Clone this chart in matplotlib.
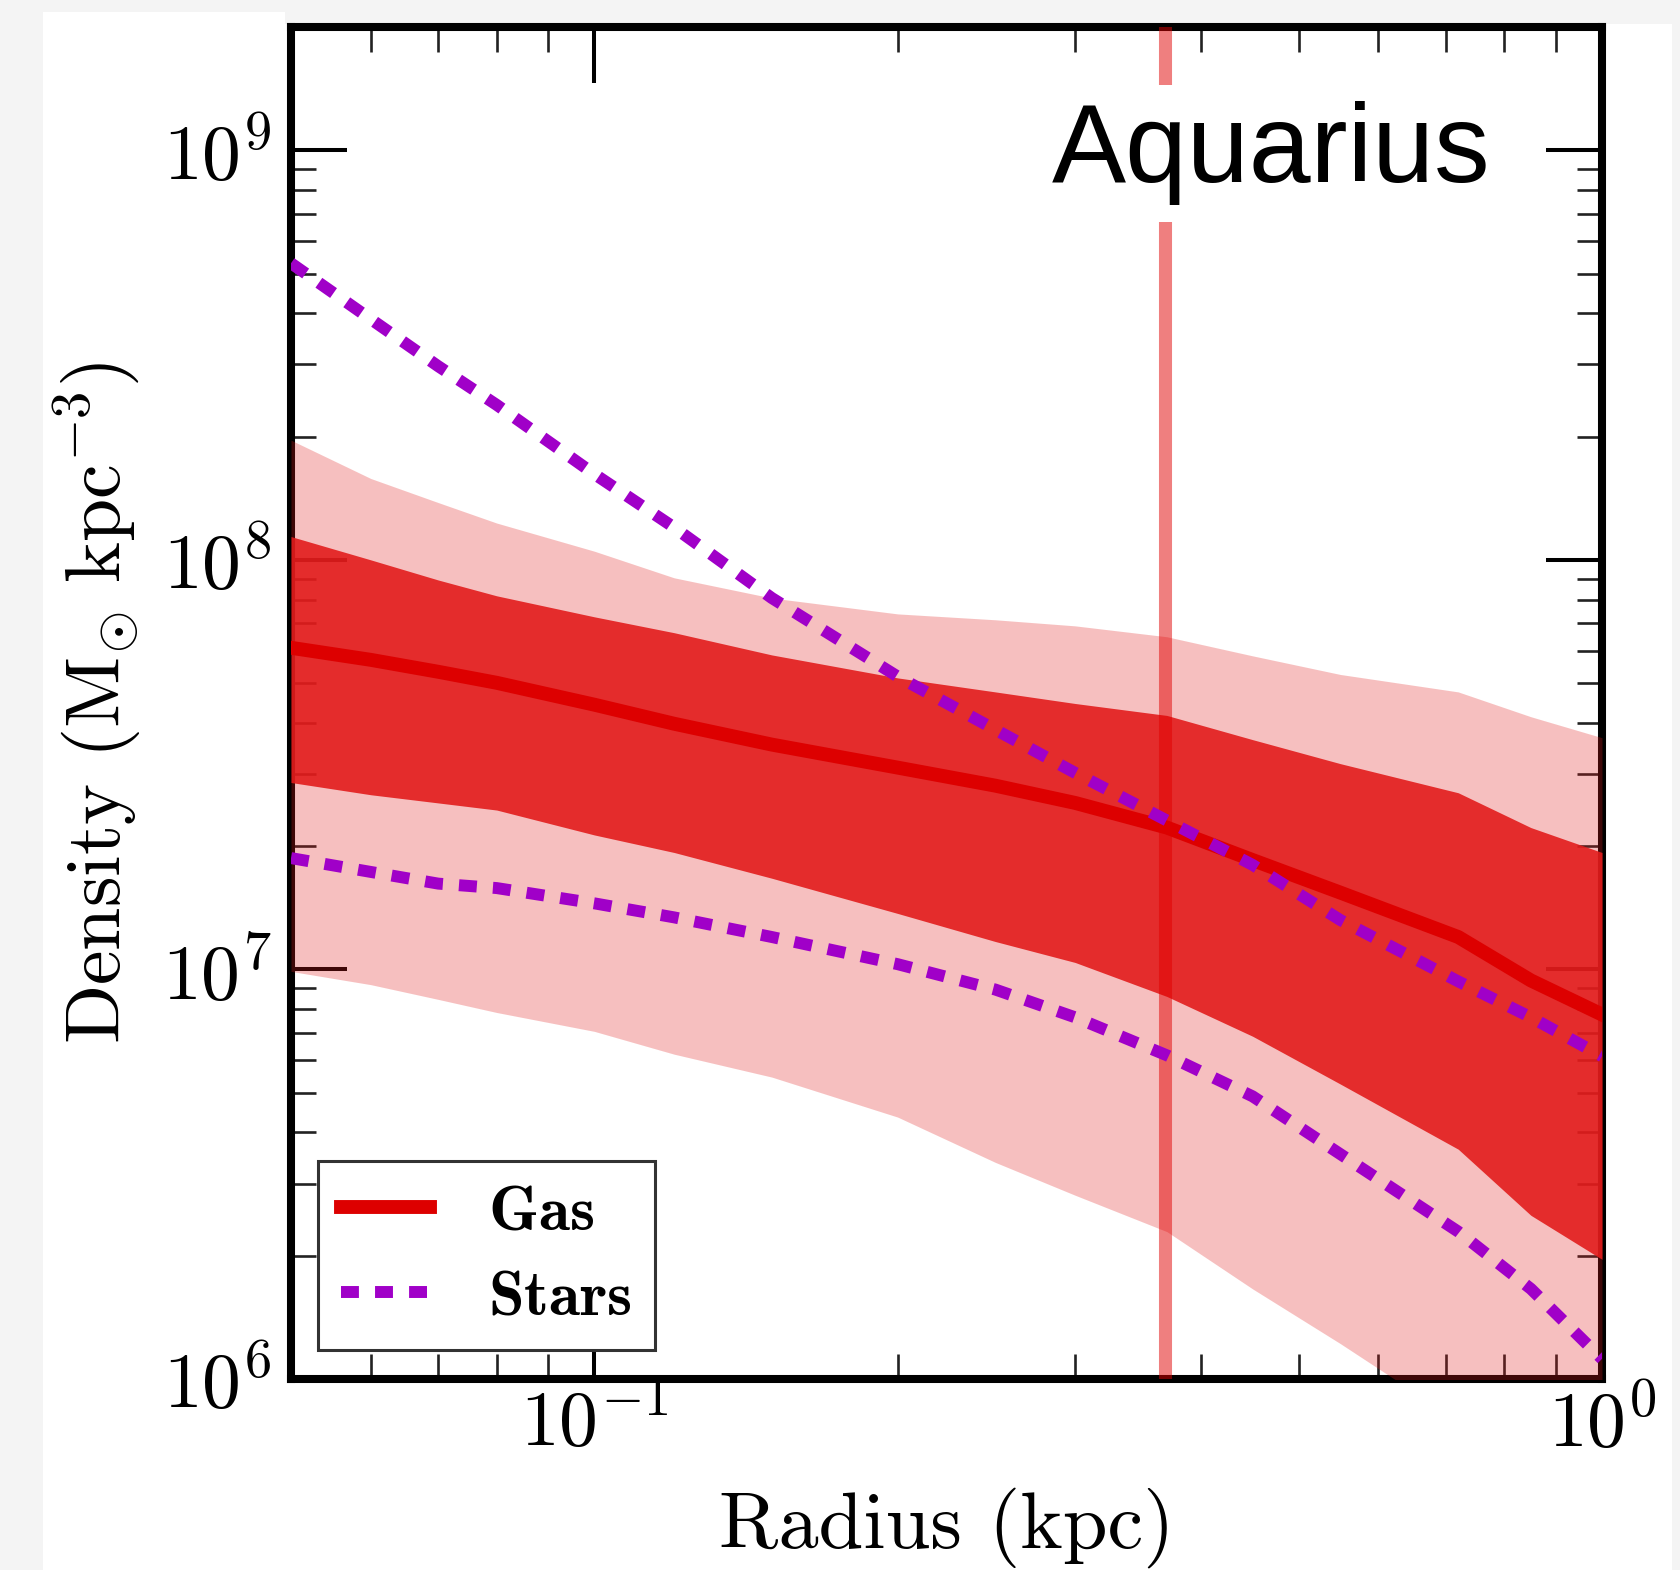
### Density profiles of gas and stars for the Aquarius dwarf
### Values were read off the original figure by eye (log-log axes)

import numpy as np
import matplotlib

matplotlib.use("Agg")
import matplotlib.pyplot as plt
from matplotlib.patches import Rectangle
from matplotlib.ticker import LogLocator, NullFormatter

plt.rcParams["mathtext.fontset"] = "cm"
plt.rcParams["font.family"] = "serif"
plt.rcParams["font.serif"] = ["cmr10"]
plt.rcParams["axes.formatter.use_mathtext"] = True

# radius (kpc) where the curves were sampled
radius = [0.05, 0.06, 0.07, 0.08, 0.10, 0.12, 0.15, 0.20,
          0.25, 0.30, 0.37, 0.45, 0.55, 0.72, 0.85, 1.00]

# gas density, median and the two confidence bands (Msun / kpc^3)
gas_median = [6.10e7, 5.70e7, 5.33e7, 5.01e7, 4.43e7, 3.98e7, 3.54e7, 3.11e7,
              2.81e7, 2.55e7, 2.22e7, 1.85e7, 1.54e7, 1.20e7, 9.40e6, 7.76e6]
gas_inner_hi = [1.14e8, 1.00e8, 8.93e7, 8.17e7, 7.26e7, 6.64e7, 5.86e7, 5.15e7,
                4.76e7, 4.46e7, 4.17e7, 3.64e7, 3.18e7, 2.70e7, 2.22e7, 1.93e7]
gas_inner_lo = [2.86e7, 2.67e7, 2.55e7, 2.45e7, 2.13e7, 1.93e7, 1.67e7, 1.37e7,
                1.17e7, 1.04e7, 8.59e6, 6.87e6, 5.25e6, 3.64e6, 2.51e6, 1.96e6]
gas_outer_hi = [1.96e8, 1.58e8, 1.38e8, 1.23e8, 1.05e8, 9.04e7, 8.07e7, 7.38e7,
                7.14e7, 6.90e7, 6.49e7, 5.83e7, 5.25e7, 4.76e7, 4.14e7, 3.68e7]
gas_outer_lo = [9.89e6, 9.18e6, 8.45e6, 7.85e6, 7.06e6, 6.21e6, 5.46e6, 4.36e6,
                3.38e6, 2.81e6, 2.29e6, 1.66e6, 1.22e6, 7.9e5, 6.2e5, 4.8e5]

# stellar density, two bracketing profiles
stars_hi = [5.30e8, 3.87e8, 2.97e8, 2.39e8, 1.62e8, 1.20e8, 8.07e7, 5.19e7,
            3.85e7, 3.02e7, 2.31e7, 1.80e7, 1.32e7, 9.35e6, 7.64e6, 6.14e6]
stars_lo = [1.87e7, 1.73e7, 1.62e7, 1.58e7, 1.45e7, 1.34e7, 1.20e7, 1.03e7,
            8.93e6, 7.64e6, 6.17e6, 4.90e6, 3.54e6, 2.29e6, 1.66e6, 1.12e6]

# half light radius marker
r_half = 0.368

galaxy_name = "Aquarius"

# colours
band_red = "#e21c1c"
line_red = "#dd0000"
star_purple = "#a000c8"

W, H = 1680, 1570
fig = plt.figure(figsize=(W / 100, H / 100), dpi=100, facecolor="#f4f4f4")

# white page behind the plot (screenshot look)
fig.add_artist(Rectangle((43 / W, 0), (1672 - 43) / W, 1 - 24 / H,
                         transform=fig.transFigure, facecolor="white",
                         edgecolor="none", zorder=0))
fig.add_artist(Rectangle((43 / W, 1 - 24 / H), (285 - 43) / W, 12 / H,
                         transform=fig.transFigure, facecolor="white",
                         edgecolor="none", zorder=0))

ax = fig.add_axes([291 / W, 1 - 1379 / H, (1602 - 291) / W, (1379 - 27) / H])

ax.fill_between(radius, gas_outer_lo, gas_outer_hi, color=band_red,
                alpha=0.28, lw=0, zorder=3)
ax.fill_between(radius, gas_inner_lo, gas_inner_hi, color=band_red,
                alpha=0.9, lw=0, zorder=3)

ax.axvline(r_half, color="#e10000", alpha=0.5, lw=9.4, zorder=3.5)

ax.plot(radius, gas_median, color=line_red, lw=10, zorder=4, label=r"$\mathbf{Gas}$")
ax.plot(radius, stars_hi, color=star_purple, lw=8.6, dashes=(1.5, 1.35),
        zorder=4, label=r"$\mathbf{Stars}$")
ax.plot(radius, stars_lo, color=star_purple, lw=8.6, dashes=(1.5, 1.35), zorder=4)

ax.set_xscale("log")
ax.set_yscale("log")
ax.set_xlim(0.05, 1.0)
ax.set_ylim(1e6, 2e9)

ax.xaxis.set_minor_locator(LogLocator(base=10, subs=np.arange(2, 10)))
ax.yaxis.set_minor_locator(LogLocator(base=10, subs=np.arange(2, 10)))
ax.xaxis.set_minor_formatter(NullFormatter())
ax.yaxis.set_minor_formatter(NullFormatter())

ax.tick_params(which="both", direction="in", top=True, right=True)
ax.tick_params(which="major", length=40, width=2.9, labelsize=56)
ax.tick_params(which="minor", length=18, width=1.9, color="#222222")
ax.tick_params(axis="x", which="major", pad=6)
ax.tick_params(axis="y", which="major", pad=14)

for side in ax.spines.values():
    side.set_linewidth(5.8)

ax.set_xlabel("Radius (kpc)", fontsize=58)
ax.set_ylabel(r"Density $(\mathrm{M}_{\odot}\ \mathrm{kpc}^{-3})$", fontsize=56)
ax.xaxis.set_label_coords(0.5, -0.08)
ax.yaxis.set_label_coords(-0.112, 0.5)

ax.text(0.915, 0.885, galaxy_name, transform=ax.transAxes, ha="right",
        va="baseline", fontsize=80, family="Liberation Sans", zorder=6,
        bbox=dict(facecolor="white", edgecolor="none", pad=12))

leg = ax.legend(loc="lower left", bbox_to_anchor=(0.0206, 0.0214),
                borderaxespad=0, fontsize=46, fancybox=False, framealpha=1,
                edgecolor="#333333", handlelength=1.4, handletextpad=0.9,
                labelspacing=0.42, borderpad=0.36)
leg.get_frame().set_linewidth(2.2)
leg.set_zorder(7)

fig.savefig("out.png", dpi=100, facecolor=fig.get_facecolor())
